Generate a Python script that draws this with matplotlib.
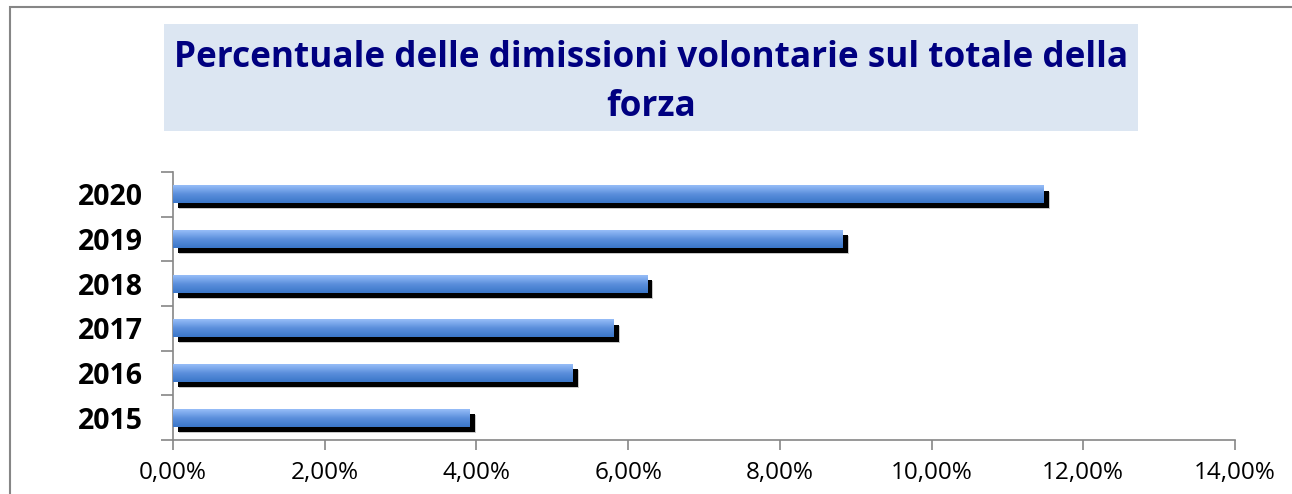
import matplotlib
matplotlib.use("Agg")
import matplotlib.pyplot as plt
import matplotlib.patheffects as pe
from matplotlib.patches import Rectangle
from matplotlib.colors import LinearSegmentedColormap
import numpy as np

years = ["2015", "2016", "2017", "2018", "2019", "2020"]
values = [3.915, 5.27, 5.81, 6.25, 8.83, 11.48]
xticks = [0, 2, 4, 6, 8, 10, 12, 14]
xtick_labels = ["0,00%", "2,00%", "4,00%", "6,00%", "8,00%", "10,00%", "12,00%", "14,00%"]
title_line1 = "Percentuale delle dimissioni volontarie sul totale della"
title_line2 = "forza"

W, H = 1292, 494
fig = plt.figure(figsize=(W / 100, H / 100), dpi=100)
fig.patch.set_facecolor("white")

# outer border (extends beyond right/bottom edges)
fig.add_artist(Rectangle((9.5 / W, -0.1), 2.0, 1 - 7.5 / H + 0.1, transform=fig.transFigure,
                         fill=False, edgecolor="#868686", linewidth=1.5))

# title box
fig.add_artist(Rectangle((164 / W, 1 - 131 / H), (1138 - 164) / W, (131 - 24) / H,
                         transform=fig.transFigure, facecolor="#dce6f2", edgecolor="none"))
cx = (164 + 1138) / 2 / W
tkw = dict(ha="center", va="baseline", fontsize=25.3, fontweight="bold",
           color="#000080", family="Open Sans")
fig.text(cx, 1 - 67 / H, title_line1, **tkw)
fig.text(cx, 1 - 116 / H, title_line2, **tkw)

ax = fig.add_axes([173 / W, 1 - 440 / H, (1235 - 173) / W, (440 - 172) / H])
ax.set_xlim(0, 14)
ax.set_ylim(-0.5, len(years) - 0.5)
ax.patch.set_alpha(0)

ypos = np.arange(len(years))
bh = 0.40
bars = ax.barh(ypos, values, height=bh, color="none", edgecolor="none")
for b in bars:
    b.set_path_effects([
        pe.SimplePatchShadow(offset=(4.4, -4.4), shadow_rgbFace="#c8c8c8", alpha=1.0),
        pe.SimplePatchShadow(offset=(3.7, -3.7), shadow_rgbFace="black", alpha=1.0),
        pe.Normal(),
    ])

cmap = LinearSegmentedColormap.from_list("g", ["#3a76c8", "#5b8fdc", "#96bdf8"])
grad = np.linspace(0, 1, 64).reshape(-1, 1)
for y, v in zip(ypos, values):
    ax.imshow(grad, cmap=cmap, aspect="auto", origin="lower",
              extent=[0, v, y - bh / 2, y + bh / 2], zorder=3, interpolation="bilinear")
ax.set_xlim(0, 14)
ax.set_ylim(-0.5, len(years) - 0.5)

for s in ["top", "right"]:
    ax.spines[s].set_visible(False)
for s in ["left", "bottom"]:
    ax.spines[s].set_color("#868686")
    ax.spines[s].set_linewidth(1.2)

ax.set_xticks(xticks)
ax.set_xticklabels(xtick_labels, fontsize=17.5, family="Open Sans", color="black")
ax.tick_params(axis="x", length=7, width=1.2, color="#868686", pad=8, direction="out")

ax.set_yticks(ypos)
ax.set_yticklabels(years, fontsize=20.5, fontweight="bold", family="Open Sans", color="black")
ax.tick_params(axis="y", length=0, pad=22)
ax.set_yticks(np.arange(-0.5, len(years), 1.0), minor=True)
ax.tick_params(axis="y", which="minor", length=9, width=1.2, color="#868686", direction="out")

fig.savefig("out.png", dpi=100)
